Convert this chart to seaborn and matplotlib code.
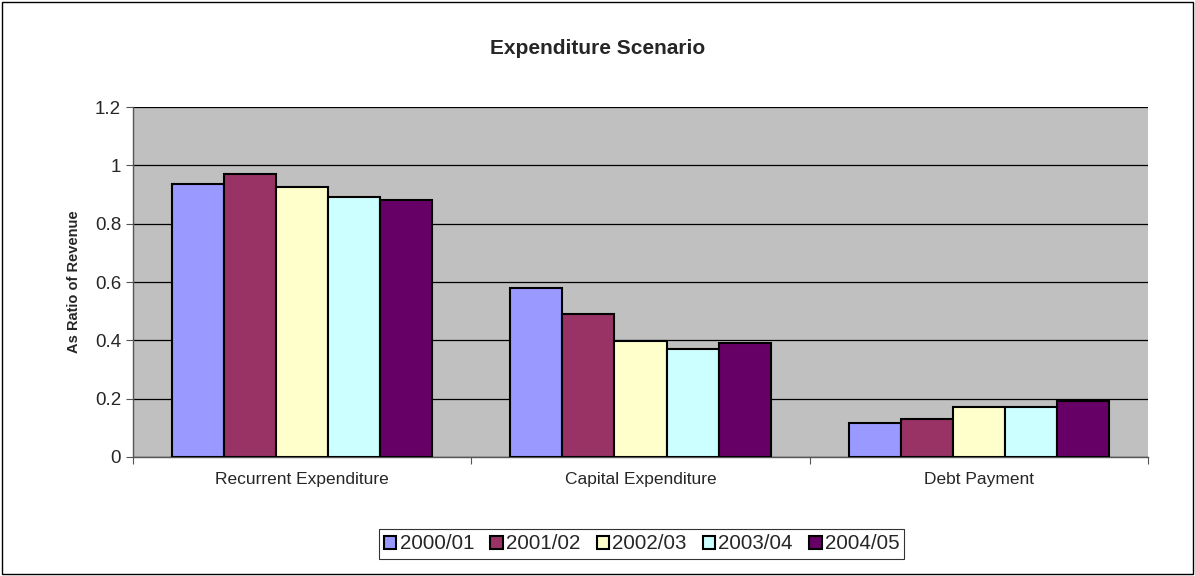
import numpy as np
import pandas as pd
import matplotlib
matplotlib.use('Agg')
import matplotlib.pyplot as plt
import seaborn as sns

# Data
categories = ['Recurrent Expenditure', 'Capital Expenditure', 'Debt Payment']
years = ['2000/01', '2001/02', '2002/03', '2003/04', '2004/05']
v_2000 = [0.936, 0.578, 0.118]
v_2001 = [0.970, 0.491, 0.129]
v_2002 = [0.925, 0.399, 0.170]
v_2003 = [0.890, 0.370, 0.172]
v_2004 = [0.881, 0.391, 0.193]
colors = ['#9999FF', '#993366', '#FFFFCC', '#CCFFFF', '#660066']

rows = []
for yr, vals in zip(years, [v_2000, v_2001, v_2002, v_2003, v_2004]):
    for cat, v in zip(categories, vals):
        rows.append({'Category': cat, 'Year': yr, 'Ratio': v})
df = pd.DataFrame(rows)

sns.set_style('white')
plt.rcParams['font.family'] = ['Liberation Sans', 'DejaVu Sans']

fig = plt.figure(figsize=(11.95, 5.76), dpi=100)
ax = fig.add_axes([0.1113, 0.2066, 0.8494, 0.6076])

sns.barplot(data=df, x='Category', y='Ratio', hue='Year', order=categories,
            hue_order=years, palette=colors, width=0.77, edgecolor='black',
            linewidth=1.5, saturation=1, ax=ax, legend=True, zorder=3)

ax.set_facecolor('#C0C0C0')
ax.set_ylim(0, 1.2)
ax.set_xlim(-0.5, 2.5)
ax.set_yticks(np.arange(0, 1.21, 0.2))
ax.set_yticklabels(['0', '0.2', '0.4', '0.6', '0.8', '1', '1.2'], fontsize=13.5)
ax.yaxis.grid(True, color='black', linewidth=0.9, zorder=0)
ax.set_axisbelow(True)
ax.tick_params(axis='y', direction='out', length=5, width=0.8, color='#555555', left=True)
ax.tick_params(axis='x', which='major', length=0, labelsize=12.5, pad=11)
ax.set_xticks([-0.5, 0.5, 1.5, 2.5], minor=True)
ax.tick_params(axis='x', which='minor', direction='out', length=5, width=0.8,
               color='#555555', bottom=True)
for side in ['top', 'right']:
    ax.spines[side].set_visible(False)
for side in ['left', 'bottom']:
    ax.spines[side].set_color('#555555')
    ax.spines[side].set_linewidth(1)

ax.set_xlabel('')
ax.set_ylabel('As Ratio of Revenue', fontsize=10.5, fontweight='bold', labelpad=10)
fig.text(0.5, 0.915, 'Expenditure Scenario', ha='center', va='center',
         fontsize=15, fontweight='bold')

handles, labels = ax.get_legend_handles_labels()
ax.get_legend().remove()
leg = fig.legend(handles, labels, loc='center', bbox_to_anchor=(0.537, 0.0556),
                 ncol=5, fontsize=14.8, frameon=True, fancybox=False,
                 handlelength=0.6, handleheight=0.6, handletextpad=0.15,
                 columnspacing=0.8, borderpad=0.25, borderaxespad=0)
leg.get_frame().set_edgecolor('black')
leg.get_frame().set_linewidth(0.8)

border = plt.Rectangle((0.002, 0.003), 0.996, 0.994, transform=fig.transFigure,
                       fill=False, edgecolor='black', linewidth=1)
fig.patches.append(border)

fig.savefig('out.png', dpi=100)
plt.close()
